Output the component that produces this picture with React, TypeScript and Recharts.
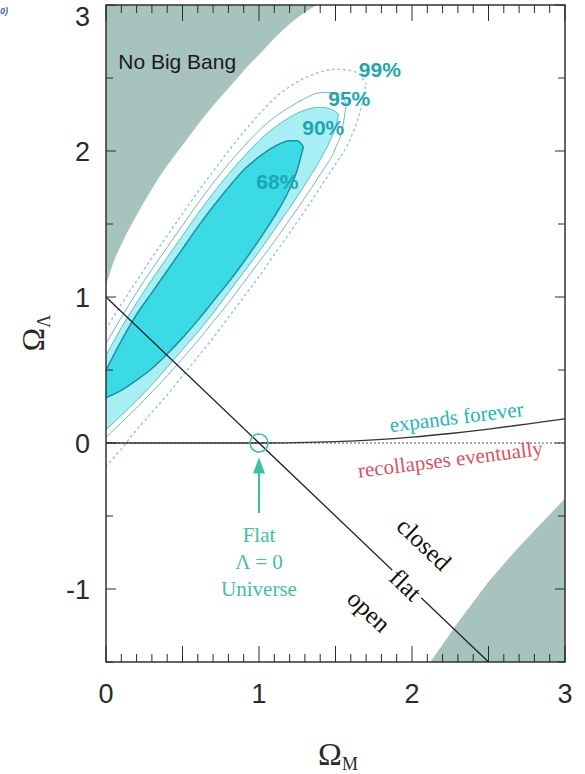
import { ComposedChart, XAxis, YAxis, Area, Line, ReferenceDot, ReferenceArea, ReferenceLine } from 'recharts';

const WIDTH = 585;
const HEIGHT = 774;
const MARGIN = { top: 5, right: 20, bottom: 0, left: 0 };
const Y_AXIS_W = 106;
const X_AXIS_H = 112;
const PLOT_W = WIDTH - MARGIN.left - MARGIN.right - Y_AXIS_W;
const PLOT_H = HEIGHT - MARGIN.top - MARGIN.bottom - X_AXIS_H;

// axes
const xTicks = Array.from({ length: 31 }, (_, i) => i / 10);
const yTicks = [-1.5, -1, -0.5, 0, 0.5, 1, 1.5, 2, 2.5, 3];
const xLabels = [0, 1, 2, 3];
const yLabels = [-1, 0, 1, 2, 3];

// confidence contours: x, lower edge, upper edge
const c68X = [0, 0.1, 0.2, 0.3, 0.4, 0.5, 0.6, 0.7, 0.8, 0.9, 1.0, 1.1, 1.2, 1.25, 1.29];
const c68Lo = [0.31, 0.36, 0.43, 0.51, 0.61, 0.72, 0.84, 0.97, 1.1, 1.24, 1.39, 1.55, 1.74, 1.87, 2.03];
const c68Hi = [0.5, 0.7, 0.88, 1.03, 1.18, 1.33, 1.48, 1.62, 1.75, 1.87, 1.96, 2.03, 2.07, 2.07, 2.03];

const c90X = [0, 0.1, 0.2, 0.3, 0.4, 0.5, 0.6, 0.7, 0.8, 0.9, 1.0, 1.1, 1.2, 1.3, 1.4, 1.46, 1.5, 1.52];
const c90Lo = [0.09, 0.19, 0.29, 0.4, 0.52, 0.64, 0.76, 0.89, 1.03, 1.17, 1.31, 1.46, 1.61, 1.77, 1.94, 2.06, 2.16, 2.25];
const c90Hi = [0.6, 0.79, 0.96, 1.12, 1.27, 1.42, 1.57, 1.71, 1.84, 1.96, 2.07, 2.16, 2.23, 2.28, 2.3, 2.29, 2.27, 2.25];

const c95X = [0, 0.1, 0.2, 0.3, 0.4, 0.5, 0.6, 0.7, 0.8, 0.9, 1.0, 1.1, 1.2, 1.3, 1.4, 1.5, 1.55, 1.57];
const c95Lo = [0.04, 0.14, 0.24, 0.35, 0.46, 0.58, 0.7, 0.83, 0.96, 1.1, 1.24, 1.38, 1.53, 1.68, 1.84, 2.02, 2.18, 2.32];
const c95Hi = [0.68, 0.86, 1.03, 1.19, 1.34, 1.49, 1.64, 1.78, 1.91, 2.03, 2.14, 2.23, 2.3, 2.36, 2.4, 2.4, 2.37, 2.32];

const c99X = [0, 0.1, 0.2, 0.3, 0.4, 0.5, 0.6, 0.7, 0.8, 0.9, 1.0, 1.1, 1.2, 1.3, 1.4, 1.5, 1.6, 1.66, 1.7];
const c99Lo = [-0.16, -0.04, 0.09, 0.21, 0.33, 0.46, 0.59, 0.72, 0.86, 1.0, 1.14, 1.29, 1.44, 1.59, 1.75, 1.91, 2.09, 2.27, 2.46];
const c99Hi = [0.78, 0.95, 1.11, 1.27, 1.42, 1.57, 1.72, 1.86, 2.0, 2.13, 2.25, 2.36, 2.44, 2.5, 2.54, 2.56, 2.55, 2.52, 2.46];

// excluded regions
const noBangX = [0, 0.05, 0.1, 0.2, 0.3, 0.4, 0.5, 0.6, 0.7, 0.8, 0.9, 1.0, 1.1, 1.2, 1.3, 1.38];
const noBangEdge = [1.08, 1.24, 1.36, 1.56, 1.74, 1.9, 2.04, 2.18, 2.31, 2.43, 2.55, 2.66, 2.77, 2.87, 2.95, 3.0];
const cornerX = [2.12, 2.3, 2.5, 2.7, 2.9, 3.0];
const cornerEdge = [-1.5, -1.23, -0.95, -0.71, -0.49, -0.38];

// lines
const flatX = [0, 2.5];
const flatY = [1, -1.5];
const foreverX = [0, 1, 1.25, 1.5, 1.75, 2, 2.25, 2.5, 2.75, 3];
const foreverY = [0, 0, 0.003, 0.01, 0.022, 0.04, 0.065, 0.095, 0.13, 0.165];
const zeroX = [0, 3];
const zeroY = [0, 0];

const band = (xs: number[], lo: number[], hi: number[]) => xs.map((x, i) => ({ x, r: [lo[i], hi[i]] }));
const pts = (xs: number[], ys: number[]) => xs.map((x, i) => ({ x, y: ys[i] }));

const SANS = '"Liberation Sans", Arial, sans-serif';
const SERIF = '"Liberation Serif", "Times New Roman", serif';
const INK = '#2a2a2a';
const TEAL = '#1ea6b0';
const GREEN = '#3cc2a2';

const near = (a: number, b: number) => Math.abs(a - b) < 1e-6;

function XTick(props: any) {
  const { x, y, payload } = props;
  const v = payload.value;
  const len = near(v * 2, Math.round(v * 2)) ? 16 : 8;
  const label = xLabels.some((l) => near(l, v));
  return (
    <g>
      <line x1={x} y1={y} x2={x} y2={y - len} stroke={INK} strokeWidth={1} />
      <line x1={x} y1={y - PLOT_H} x2={x} y2={y - PLOT_H + len} stroke={INK} strokeWidth={1} />
      {label && (
        <text x={x} y={y + 41} textAnchor="middle" fontFamily={SANS} fontSize={27} fill={INK}>
          {v}
        </text>
      )}
    </g>
  );
}

function YTick(props: any) {
  const { x, y, payload } = props;
  const v = payload.value;
  const len = near(v, Math.round(v)) ? 10 : 7;
  const label = yLabels.some((l) => near(l, v));
  return (
    <g>
      <line x1={x} y1={y} x2={x + len} y2={y} stroke={INK} strokeWidth={1} />
      <line x1={x + PLOT_W} y1={y} x2={x + PLOT_W - len} y2={y} stroke={INK} strokeWidth={1} />
      {label && (
        <text x={x - 16} y={Math.max(y, 16) + 10} textAnchor="end" fontFamily={SANS} fontSize={27} fill={INK}>
          {v}
        </text>
      )}
    </g>
  );
}

function note(x: number, y: number, text: string, style: any, rotate = 0, anchor = 'middle') {
  return (
    <ReferenceDot
      x={x}
      y={y}
      r={0}
      shape={(p: any) => (
        <text
          x={p.cx}
          y={p.cy}
          dy="0.35em"
          textAnchor={anchor}
          transform={rotate ? `rotate(${rotate} ${p.cx} ${p.cy})` : undefined}
          {...style}
        >
          {text}
        </text>
      )}
    />
  );
}

const pctStyle = { fontFamily: SANS, fontSize: 21, fontWeight: 'bold', fill: TEAL };
const serifStyle = { fontFamily: SERIF, fontSize: 25, fill: '#111' };
const flatNote = { fontFamily: SERIF, fontSize: 21, fill: GREEN };

export default function App() {
  return (
    <div style={{ position: 'absolute', left: 0, top: 0, width: WIDTH, height: HEIGHT, background: '#fff' }}>
      <ComposedChart width={WIDTH} height={HEIGHT} margin={MARGIN}>
        <XAxis
          dataKey="x"
          type="number"
          domain={[0, 3]}
          allowDataOverflow
          ticks={xTicks}
          interval={0}
          tickLine={false}
          axisLine={false}
          tickSize={0}
          tickMargin={0}
          height={X_AXIS_H}
          tick={XTick}
        />
        <YAxis
          type="number"
          domain={[-1.5, 3]}
          allowDataOverflow
          ticks={yTicks}
          interval={0}
          tickLine={false}
          axisLine={false}
          tickSize={0}
          tickMargin={0}
          width={Y_AXIS_W}
          tick={YTick}
        />

        <Area data={band(noBangX, noBangEdge, noBangEdge.map(() => 3))} dataKey="r" type="monotone" stroke="none" fill="#a7c3bd" fillOpacity={1} dot={false} activeDot={false} isAnimationActive={false} />
        <Area data={band(cornerX, cornerX.map(() => -1.5), cornerEdge)} dataKey="r" type="linear" stroke="none" fill="#a7c3bd" fillOpacity={1} dot={false} activeDot={false} isAnimationActive={false} />

        <Area data={band(c99X, c99Lo, c99Hi)} dataKey="r" type="monotone" stroke="#8cc6cc" strokeWidth={1.4} strokeDasharray="1.5 4" strokeLinecap="round" fill="none" dot={false} activeDot={false} isAnimationActive={false} />
        <Area data={band(c95X, c95Lo, c95Hi)} dataKey="r" type="monotone" stroke="#6fb9bf" strokeWidth={1} fill="none" dot={false} activeDot={false} isAnimationActive={false} />
        <Area data={band(c90X, c90Lo, c90Hi)} dataKey="r" type="monotone" stroke="#4fc2cb" strokeWidth={1} fill="#a8eff3" fillOpacity={1} dot={false} activeDot={false} isAnimationActive={false} />
        <Area data={band(c68X, c68Lo, c68Hi)} dataKey="r" type="monotone" stroke="#1b8fa5" strokeWidth={1.5} fill="#3bdbe6" fillOpacity={1} dot={false} activeDot={false} isAnimationActive={false} />

        <Line data={pts(zeroX, zeroY)} dataKey="y" type="linear" stroke="#555" strokeWidth={1.2} strokeDasharray="2 2" dot={false} activeDot={false} isAnimationActive={false} />
        <Line data={pts(foreverX, foreverY)} dataKey="y" type="monotone" stroke="#333" strokeWidth={1.3} dot={false} activeDot={false} isAnimationActive={false} />
        <Line data={pts(flatX, flatY)} dataKey="y" type="linear" stroke="#222" strokeWidth={1.3} dot={false} activeDot={false} isAnimationActive={false} />

        <ReferenceDot x={1} y={0} r={9} fill="none" stroke={GREEN} strokeWidth={1.5} />
        <ReferenceLine segment={[{ x: 1, y: -0.48 }, { x: 1, y: -0.17 }]} stroke={GREEN} strokeWidth={2} />
        <ReferenceDot
          x={1}
          y={-0.1}
          r={0}
          shape={(p: any) => (
            <polygon points={`${p.cx},${p.cy} ${p.cx - 6},${p.cy + 16} ${p.cx + 6},${p.cy + 16}`} fill={GREEN} />
          )}
        />

        {note(0.08, 2.61, 'No Big Bang', { fontFamily: SANS, fontSize: 21, fill: '#1a1a1a' }, 0, 'start')}
        {note(1.12, 1.79, '68%', pctStyle)}
        {note(1.42, 2.16, '90%', pctStyle)}
        {note(1.59, 2.36, '95%', pctStyle)}
        {note(1.79, 2.56, '99%', pctStyle)}

        {note(2.29, 0.18, 'expands forever', { fontFamily: SERIF, fontSize: 21, fill: '#22b4c2' }, -7)}
        {note(2.25, -0.11, 'recollapses eventually', { fontFamily: SERIF, fontSize: 21, fill: '#d65262' }, -7)}

        {note(2.08, -0.69, 'closed', serifStyle, 43.7)}
        {note(1.96, -0.97, 'flat', { ...serifStyle, stroke: '#fff', strokeWidth: 8, paintOrder: 'stroke' }, 43.7)}
        {note(1.72, -1.15, 'open', serifStyle, 43.7)}

        {note(1, -0.63, 'Flat', flatNote)}
        {note(1, -0.815, 'Λ = 0', flatNote)}
        {note(1, -1.0, 'Universe', flatNote)}

        <ReferenceArea x1={0} x2={3} y1={-1.5} y2={3} fill="none" fillOpacity={0} stroke="#333" strokeWidth={1.5} />
      </ComposedChart>

      <svg width={WIDTH} height={HEIGHT} style={{ position: 'absolute', left: 0, top: 0, pointerEvents: 'none' }}>
        <text x={0} y={14} fontFamily={SANS} fontSize={9} fontStyle="italic" fontWeight="bold" fill="#3d5fae">
          0)
        </text>
        <text transform="rotate(-90 44 333)" x={44} y={333} textAnchor="middle" fontFamily={SERIF} fontSize={32} fill={INK}>
          Ω<tspan dy={6} fontSize={18}>Λ</tspan>
        </text>
        <text x={338} y={765} textAnchor="middle" fontFamily={SERIF} fontSize={32} fill={INK}>
          Ω<tspan dy={5} fontSize={18}>M</tspan>
        </text>
      </svg>
    </div>
  );
}
